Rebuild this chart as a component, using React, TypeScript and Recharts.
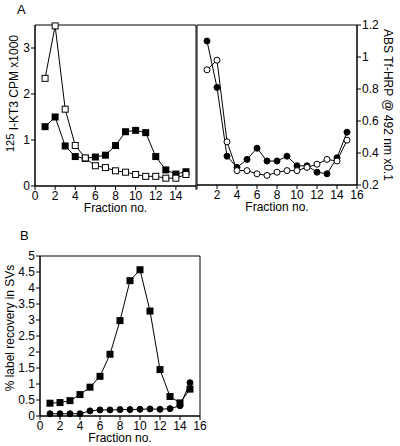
import { LineChart, Line, XAxis, YAxis, ReferenceArea } from 'recharts'

const fractions = [1, 2, 3, 4, 5, 6, 7, 8, 9, 10, 11, 12, 13, 14, 15]
const fractionTicks = [0, 2, 4, 6, 8, 10, 12, 14, 16]

// panel A left: 125I-KT3 CPM x1000
const kt3Filled = [1.29, 1.5, 0.87, 0.64, 0.6, 0.63, 0.67, 0.88, 1.18, 1.21, 1.16, 0.64, 0.35, 0.26, 0.31]
const kt3Open = [2.34, 3.48, 1.67, 0.88, 0.61, 0.44, 0.4, 0.33, 0.3, 0.25, 0.21, 0.21, 0.17, 0.17, 0.25]
const kt3Ticks = [0, 1, 2, 3]

// panel A right: ABS Tf-HRP @ 492 nm x0.1
const hrpFilled = [1.1, 0.81, 0.38, 0.31, 0.36, 0.43, 0.35, 0.35, 0.38, 0.32, 0.32, 0.28, 0.27, 0.37, 0.53]
const hrpOpen = [0.92, 0.98, 0.47, 0.29, 0.29, 0.27, 0.26, 0.28, 0.29, 0.29, 0.31, 0.33, 0.36, 0.35, 0.48]
const hrpTicks = [0.2, 0.4, 0.6, 0.8, 1, 1.2]

// panel B: % label recovery in SVs
const svSquares = [0.4, 0.42, 0.48, 0.67, 0.9, 1.24, 1.93, 2.98, 4.23, 4.57, 3.28, 1.45, 0.61, 0.41, 0.84]
const svCircles = [0.07, 0.07, 0.07, 0.07, 0.16, 0.19, 0.19, 0.2, 0.2, 0.21, 0.22, 0.21, 0.23, 0.32, 1.04]
const svTicks = [0, 0.5, 1, 1.5, 2, 2.5, 3, 3.5, 4, 4.5, 5]

const kt3Data = fractions.map((f, i) => ({ fraction: f, filled: kt3Filled[i], open: kt3Open[i] }))
const hrpData = fractions.map((f, i) => ({ fraction: f, filled: hrpFilled[i], open: hrpOpen[i] }))
const svData = fractions.map((f, i) => ({ fraction: f, squares: svSquares[i], circles: svCircles[i] }))

const FONT = '"Liberation Sans", Arial, Helvetica, sans-serif'
const tickStyle = { fill: '#000', fontSize: 12, fontFamily: FONT }
const axisProps = {
  stroke: '#000',
  tickLine: { stroke: '#000' },
  axisLine: { stroke: '#000' },
  tick: tickStyle,
  tickSize: 4,
  tickMargin: 1,
  interval: 0 as const,
}

const filledSquare = (p: any) => (
  <rect key={`fs-${p.index}`} x={p.cx - 3.5} y={p.cy - 3.5} width={7} height={7} fill="#000" />
)
const openSquare = (p: any) => (
  <rect key={`os-${p.index}`} x={p.cx - 3} y={p.cy - 3} width={6} height={6} fill="#fff" stroke="#000" strokeWidth={1} />
)

const CpmLabel = (props: any) => {
  const { viewBox } = props
  const cx = viewBox.x + 14
  const cy = viewBox.y + viewBox.height / 2 - 12
  return (
    <text x={cx} y={cy} transform={`rotate(-90, ${cx}, ${cy})`} textAnchor="middle" dominantBaseline="central" fill="#000" fontSize={12} fontFamily={FONT}>
      <tspan fontSize={11} dy={-4}>125</tspan>
      <tspan dy={4}> I-KT3 CPM x1000</tspan>
    </text>
  )
}

const HrpLabel = (props: any) => {
  const { viewBox } = props
  const cx = viewBox.x + 31
  const cy = viewBox.y + viewBox.height / 2
  return (
    <text x={cx} y={cy} transform={`rotate(90, ${cx}, ${cy})`} textAnchor="middle" dominantBaseline="central" fill="#000" fontSize={12} fontFamily={FONT}>
      ABS Tf-HRP  @  492 nm x0.1
    </text>
  )
}

const SvLabel = (props: any) => {
  const { viewBox } = props
  const cx = viewBox.x + 10
  const cy = viewBox.y + viewBox.height / 2 - 8
  return (
    <text x={cx} y={cy} transform={`rotate(-90, ${cx}, ${cy})`} textAnchor="middle" dominantBaseline="central" fill="#000" fontSize={12} fontFamily={FONT}>
      % label recovery in SVs
    </text>
  )
}

const xLabel = { value: 'Fraction no.', position: 'insideBottom' as const, offset: 2, fill: '#000', fontSize: 12, fontFamily: FONT }

export default function App() {
  return (
    <div style={{ position: 'fixed', left: 0, top: 0, width: 400, height: 446, background: '#fff', fontFamily: FONT }}>
      <div style={{ position: 'absolute', left: 17, top: 2, fontSize: 13 }}>A</div>
      <div style={{ position: 'absolute', left: 20, top: 228, fontSize: 13 }}>B</div>

      <div style={{ position: 'absolute', left: 0, top: 0 }}>
        <LineChart width={200} height={220} data={kt3Data} margin={{ top: 25, right: 4, left: 0, bottom: 6 }}>
          <XAxis
            {...axisProps}
            type="number"
            dataKey="fraction"
            domain={[0, 16]}
            ticks={fractionTicks}
            height={28}
            tickFormatter={(v) => (v === 16 ? '' : String(v))}
            label={xLabel}
          />
          <YAxis {...axisProps} type="number" domain={[0, 3.5]} ticks={kt3Ticks} width={35} label={<CpmLabel />} />
          <ReferenceArea x1={0} x2={16} y1={0} y2={3.5} fill="none" stroke="#000" strokeWidth={1} ifOverflow="visible" />
          <Line dataKey="filled" stroke="#000" strokeWidth={1} dot={filledSquare} activeDot={false} isAnimationActive={false} />
          <Line dataKey="open" stroke="#000" strokeWidth={1} dot={openSquare} activeDot={false} isAnimationActive={false} />
        </LineChart>
      </div>

      <div style={{ position: 'absolute', left: 180, top: 0 }}>
        <LineChart width={220} height={219} data={hrpData} margin={{ top: 25, right: 0, left: 17, bottom: 6 }}>
          <XAxis
            {...axisProps}
            type="number"
            dataKey="fraction"
            domain={[0, 16]}
            ticks={fractionTicks}
            height={28}
            tickFormatter={(v) => (v === 0 ? '' : String(v))}
            label={xLabel}
          />
          <YAxis {...axisProps} orientation="right" type="number" domain={[0.2, 1.2]} ticks={hrpTicks} width={43} label={<HrpLabel />} />
          <ReferenceArea x1={0} x2={16} y1={0.2} y2={1.2} fill="none" stroke="#000" strokeWidth={1} ifOverflow="visible" />
          <Line dataKey="filled" stroke="#000" strokeWidth={1} dot={{ r: 3, fill: '#000', stroke: '#000', strokeWidth: 1 }} activeDot={false} isAnimationActive={false} />
          <Line dataKey="open" stroke="#000" strokeWidth={1} dot={{ r: 3, fill: '#fff', stroke: '#000', strokeWidth: 1 }} activeDot={false} isAnimationActive={false} />
        </LineChart>
      </div>

      <div style={{ position: 'absolute', left: 0, top: 230 }}>
        <LineChart width={210} height={216} data={svData} margin={{ top: 26, right: 10, left: 0, bottom: 2 }}>
          <XAxis
            {...axisProps}
            type="number"
            dataKey="fraction"
            domain={[0, 16]}
            ticks={fractionTicks}
            height={28}
            label={xLabel}
          />
          <YAxis {...axisProps} type="number" domain={[0, 5]} ticks={svTicks} width={40} label={<SvLabel />} />
          <ReferenceArea x1={0} x2={16} y1={0} y2={5} fill="none" stroke="#000" strokeWidth={1} ifOverflow="visible" />
          <Line dataKey="circles" stroke="#000" strokeWidth={1} dot={{ r: 3, fill: '#000', stroke: '#000', strokeWidth: 1 }} activeDot={false} isAnimationActive={false} />
          <Line dataKey="squares" stroke="#000" strokeWidth={1} dot={filledSquare} activeDot={false} isAnimationActive={false} />
        </LineChart>
      </div>
    </div>
  )
}
